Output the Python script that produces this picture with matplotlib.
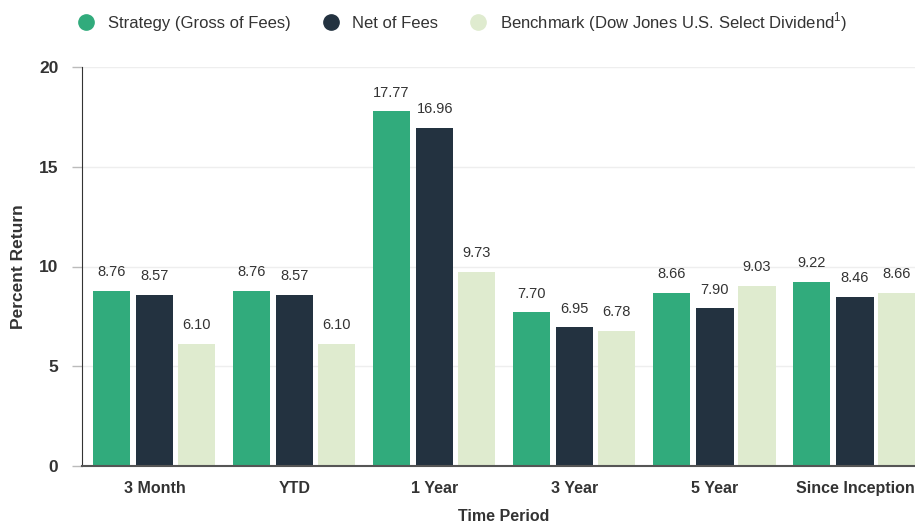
import matplotlib.pyplot as plt
from matplotlib.lines import Line2D
import numpy as np

plt.rcParams['font.family'] = ['Liberation Sans', 'DejaVu Sans']
plt.rcParams['mathtext.fontset'] = 'custom'
plt.rcParams['mathtext.rm'] = 'Liberation Sans'

# data
periods = ["3 Month", "YTD", "1 Year", "3 Year", "5 Year", "Since Inception"]
strategy = [8.76, 8.76, 17.77, 7.70, 8.66, 9.22]
net_fees = [8.57, 8.57, 16.96, 6.95, 7.90, 8.46]
benchmark = [6.10, 6.10, 9.73, 6.78, 9.03, 8.66]
series_names = ["Strategy (Gross of Fees)", "Net of Fees",
                "Benchmark (Dow Jones U.S. Select Dividend$^1$)"]
colors = ["#31ab7c", "#233240", "#dfebcf"]

fig = plt.figure(figsize=(9.15, 5.25), dpi=100)
ax = fig.add_axes([82 / 915, 59 / 525, 843 / 915, 399 / 525])

x = np.arange(len(periods))
offsets = [-0.31, 0.0, 0.30]
width = 0.265
text_color = "#333333"

for vals, off, col, name in zip([strategy, net_fees, benchmark], offsets, colors, series_names):
    bars = ax.bar(x + off, vals, width, color=col, label=name, zorder=2)
    for b, v in zip(bars, vals):
        ax.annotate(f"{v:.2f}", (b.get_x() + b.get_width() / 2, v),
                    xytext=(0, 8.5), textcoords="offset points",
                    ha="center", va="bottom", fontsize=10.5, color=text_color)

ax.set_xlim(-0.52, 5.5)
ax.set_ylim(0, 20)
ax.set_yticks([0, 5, 10, 15, 20])
ax.set_xticks(x)
ax.set_xticklabels(periods, fontsize=11.5, fontweight="bold", color=text_color)
ax.tick_params(axis="x", length=0, pad=11)
ax.tick_params(axis="y", length=7, width=1, color="#bbbbbb", labelsize=12.5,
               labelcolor=text_color, pad=10)
for lbl in ax.get_yticklabels():
    lbl.set_fontweight("bold")
ax.grid(axis="y", color="#eeeeee", linewidth=1, zorder=0)
ax.spines["top"].set_visible(False)
ax.spines["right"].set_visible(False)
ax.spines["left"].set_color("#333333")
ax.spines["bottom"].set_color("#555555")
ax.spines["bottom"].set_linewidth(1.5)

ax.set_xlabel("Time Period", fontsize=11.5, fontweight="bold", color=text_color, labelpad=9)
ax.set_ylabel("Percent Return", fontsize=12.5, fontweight="bold", color=text_color, labelpad=9)

handles = [Line2D([], [], marker="o", linestyle="none", markersize=11,
                  markerfacecolor=c, markeredgecolor=c) for c in colors]
fig.legend(handles, series_names, loc="center left", bbox_to_anchor=(0.085, 0.958),
           ncol=3, frameon=False, fontsize=12, handlelength=1.0, handletextpad=0.8,
           columnspacing=1.9, borderpad=0, borderaxespad=0, labelcolor=text_color)

fig.savefig("out.png", dpi=100)
